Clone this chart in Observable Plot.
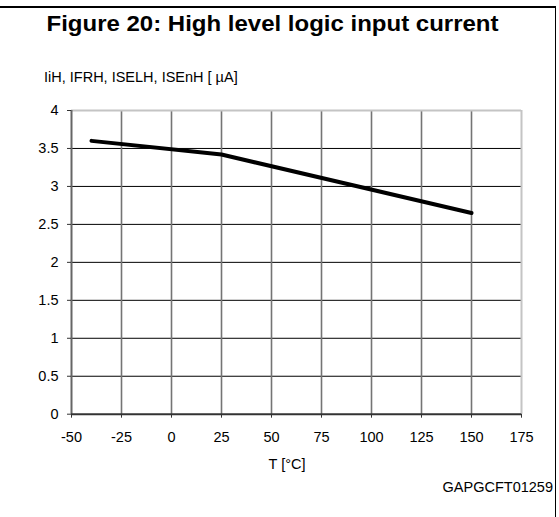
<!DOCTYPE html>
<html>
<head>
<meta charset="utf-8">
<script src="https://cdn.jsdelivr.net/npm/d3@7"></script>
<script src="https://cdn.jsdelivr.net/npm/@observablehq/plot@0.6"></script>
<style>
  html, body { margin: 0; padding: 0; background: #fff; }
  #wrap { position: relative; width: 559px; height: 517px; overflow: hidden; }
  #frame { position: absolute; left: 0; top: 6px; width: 556px; height: 520px; border-top: 2.5px solid #000; border-right: 1.5px solid #000; box-sizing: border-box; pointer-events: none; }
  svg { font-family: "Liberation Sans", Arial, sans-serif; }
</style>
</head>
<body>
<div id="wrap"><div id="frame"></div></div>
<script>
// Data
const temperature = [-40, 25, 150];
const current = [3.6, 3.42, 2.65];
const xTicks = [-50, -25, 0, 25, 50, 75, 100, 125, 150, 175];
const yTicks = [0, 0.5, 1, 1.5, 2, 2.5, 3, 3.5, 4];
const titleText = "Figure 20: High level logic input current";
const yLabel = "IiH, IFRH, ISELH, ISEnH [ µA]";
const xLabel = "T [°C]";
const captionText = "GAPGCFT01259";

const data = temperature.map((t, i) => ({t, v: current[i]}));
const fs = 14.5;

const chart = Plot.plot({
  width: 559,
  height: 517,
  marginLeft: 71,
  marginRight: 38,
  marginTop: 110,
  marginBottom: 103.3,
  style: {fontFamily: '"Liberation Sans", Arial, sans-serif', fontSize: fs + "px", color: "#000", background: "transparent", overflow: "visible"},
  x: {domain: [-50, 175], ticks: xTicks, tickFormat: d => String(d)},
  y: {domain: [0, 4], ticks: yTicks, tickFormat: d => String(d)},
  marks: [
    Plot.ruleY(yTicks.filter(d => d > 0 && d < 4), {stroke: "#000", strokeWidth: 1}),
    Plot.ruleX(xTicks.filter(d => d > -50 && d < 175), {stroke: "#747474", strokeWidth: 1.6}),
    Plot.ruleY([4], {stroke: "#c4c4c4", strokeWidth: 2}),
    Plot.ruleX([175], {stroke: "#c4c4c4", strokeWidth: 2}),
    Plot.ruleX([-50], {stroke: "#666", strokeWidth: 2}),
    Plot.ruleY([0], {stroke: "#333", strokeWidth: 2}),
    Plot.axisX({ticks: xTicks, tickFormat: d => String(d), tickSize: 4, tickPadding: 14, label: null, stroke: "#333", fontSize: fs}),
    Plot.axisY({ticks: yTicks, tickFormat: d => String(d), tickSize: 4, tickPadding: 9, label: null, stroke: "#333", fontSize: fs}),
    Plot.line(data, {x: "t", y: "v", stroke: "#000", strokeWidth: 4, strokeLinecap: "round", strokeLinejoin: "round"})
  ]
});

document.getElementById("wrap").insertBefore(chart, document.getElementById("frame"));
chart.style.position = "absolute";
chart.style.left = "0px";
chart.style.top = "0px";

const svg = d3.select(chart);
const ann = svg.append("g").attr("font-family", '"Liberation Sans", Arial, sans-serif').attr("fill", "#000");
ann.append("text").attr("x", 46.5).attr("y", 30.5).attr("text-anchor", "start").attr("font-size", 22.5).attr("font-weight", "bold")
  .attr("textLength", 452).attr("lengthAdjust", "spacingAndGlyphs").text(titleText);
ann.append("text").attr("x", 44).attr("y", 81.5).attr("text-anchor", "start").attr("font-size", fs).text(yLabel);
ann.append("text").attr("x", 287).attr("y", 469).attr("text-anchor", "middle").attr("font-size", fs).text(xLabel);
ann.append("text").attr("x", 553).attr("y", 492).attr("text-anchor", "end").attr("font-size", fs).text(captionText);
</script>
</body>
</html>
